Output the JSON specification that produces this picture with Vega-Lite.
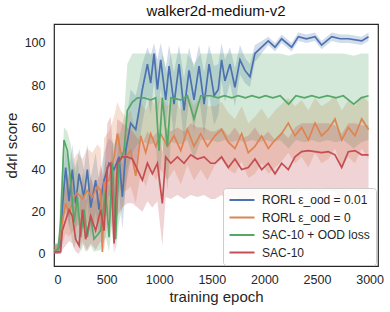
{
"$schema": "https://vega.github.io/schema/vega-lite/v6.json",
"width": 324, "height": 242,
"autosize": {"type": "none"},
"padding": {"left": 54, "top": 24, "right": 12, "bottom": 46},
"title": {"text": "walker2d-medium-v2", "fontSize": 15, "font": "Liberation Sans", "fontWeight": "normal", "color": "#111", "offset": 5},
"config": {
  "view": {"stroke": "#262626", "strokeWidth": 1.2},
  "font": "Liberation Sans",
  "axis": {"grid": false, "ticks": false, "domain": false, "labelFont": "Liberation Sans", "labelFontSize": 12.5, "labelColor": "#262626", "titleFont": "Liberation Sans", "titleFontSize": 15, "titleFontWeight": "normal", "titleColor": "#262626"}
},
"data": {"values": [
{"s":"b","e":0,"m":2,"lo":0,"hi":4},{"s":"b","e":30,"m":2,"lo":0,"hi":5},{"s":"b","e":63,"m":4,"lo":0,"hi":12},{"s":"b","e":79,"m":22,"lo":10,"hi":35},{"s":"b","e":111,"m":41,"lo":25,"hi":50},{"s":"b","e":143,"m":25,"lo":12,"hi":40},{"s":"b","e":174,"m":40,"lo":25,"hi":52},{"s":"b","e":206,"m":24,"lo":10,"hi":38},{"s":"b","e":238,"m":38,"lo":22,"hi":50},{"s":"b","e":285,"m":27,"lo":12,"hi":40},{"s":"b","e":317,"m":40,"lo":25,"hi":52},{"s":"b","e":349,"m":22,"lo":8,"hi":36},{"s":"b","e":396,"m":35,"lo":20,"hi":48},{"s":"b","e":428,"m":21,"lo":8,"hi":35},{"s":"b","e":476,"m":35,"lo":20,"hi":48},{"s":"b","e":523,"m":43,"lo":28,"hi":55},{"s":"b","e":571,"m":40,"lo":25,"hi":52},{"s":"b","e":618,"m":46,"lo":30,"hi":58},{"s":"b","e":650,"m":27,"lo":12,"hi":42},{"s":"b","e":682,"m":49,"lo":32,"hi":62},{"s":"b","e":729,"m":62,"lo":45,"hi":78},{"s":"b","e":777,"m":59,"lo":42,"hi":75},{"s":"b","e":808,"m":68,"lo":52,"hi":82},{"s":"b","e":840,"m":78,"lo":62,"hi":90},{"s":"b","e":888,"m":90,"lo":75,"hi":98},{"s":"b","e":919,"m":81,"lo":66,"hi":94},{"s":"b","e":951,"m":95,"lo":82,"hi":100},{"s":"b","e":983,"m":78,"lo":63,"hi":92},{"s":"b","e":1014,"m":92,"lo":78,"hi":100},{"s":"b","e":1062,"m":73,"lo":58,"hi":88},{"s":"b","e":1094,"m":89,"lo":75,"hi":99},{"s":"b","e":1141,"m":71,"lo":56,"hi":86},{"s":"b","e":1189,"m":90,"lo":76,"hi":99},{"s":"b","e":1236,"m":68,"lo":53,"hi":83},{"s":"b","e":1284,"m":87,"lo":73,"hi":98},{"s":"b","e":1331,"m":73,"lo":58,"hi":88},{"s":"b","e":1379,"m":89,"lo":75,"hi":99},{"s":"b","e":1427,"m":71,"lo":56,"hi":86},{"s":"b","e":1474,"m":90,"lo":76,"hi":99},{"s":"b","e":1522,"m":75,"lo":61,"hi":89},{"s":"b","e":1562,"m":78,"lo":66,"hi":90},{"s":"b","e":1593,"m":92,"lo":82,"hi":100},{"s":"b","e":1625,"m":82,"lo":72,"hi":92},{"s":"b","e":1673,"m":90,"lo":81,"hi":98},{"s":"b","e":1720,"m":79,"lo":70,"hi":88},{"s":"b","e":1768,"m":92,"lo":85,"hi":99},{"s":"b","e":1815,"m":87,"lo":81,"hi":93},{"s":"b","e":1863,"m":84,"lo":79,"hi":90},{"s":"b","e":1910,"m":95,"lo":91,"hi":99},{"s":"b","e":1974,"m":98,"lo":95,"hi":101},{"s":"b","e":2037,"m":101,"lo":99,"hi":103},{"s":"b","e":2101,"m":98,"lo":96,"hi":100},{"s":"b","e":2164,"m":102,"lo":100,"hi":104},{"s":"b","e":2259,"m":98,"lo":96,"hi":100},{"s":"b","e":2323,"m":103,"lo":101,"hi":105},{"s":"b","e":2400,"m":102,"lo":100,"hi":104},{"s":"b","e":2481,"m":103,"lo":101,"hi":105},{"s":"b","e":2544,"m":99,"lo":97,"hi":101},{"s":"b","e":2640,"m":103,"lo":101,"hi":105},{"s":"b","e":2720,"m":102,"lo":100,"hi":104},{"s":"b","e":2798,"m":102,"lo":100,"hi":104},{"s":"b","e":2925,"m":101,"lo":99,"hi":103},{"s":"b","e":2990,"m":103,"lo":101,"hi":105},

{"s":"o","e":0,"m":2,"lo":0,"hi":5},{"s":"o","e":40,"m":2,"lo":0,"hi":5},{"s":"o","e":79,"m":15,"lo":5,"hi":30},{"s":"o","e":111,"m":24,"lo":10,"hi":40},{"s":"o","e":143,"m":19,"lo":8,"hi":35},{"s":"o","e":190,"m":27,"lo":12,"hi":45},{"s":"o","e":222,"m":29,"lo":14,"hi":48},{"s":"o","e":270,"m":26,"lo":12,"hi":45},{"s":"o","e":317,"m":30,"lo":15,"hi":50},{"s":"o","e":365,"m":27,"lo":12,"hi":48},{"s":"o","e":412,"m":32,"lo":16,"hi":52},{"s":"o","e":444,"m":30,"lo":14,"hi":50},{"s":"o","e":460,"m":1,"lo":0,"hi":30},{"s":"o","e":476,"m":34,"lo":18,"hi":55},{"s":"o","e":523,"m":35,"lo":18,"hi":58},{"s":"o","e":571,"m":46,"lo":25,"hi":65},{"s":"o","e":602,"m":57,"lo":35,"hi":72},{"s":"o","e":634,"m":48,"lo":30,"hi":68},{"s":"o","e":682,"m":46,"lo":30,"hi":65},{"s":"o","e":729,"m":49,"lo":32,"hi":68},{"s":"o","e":777,"m":37,"lo":24,"hi":58},{"s":"o","e":824,"m":56,"lo":38,"hi":72},{"s":"o","e":872,"m":48,"lo":32,"hi":68},{"s":"o","e":919,"m":57,"lo":40,"hi":74},{"s":"o","e":967,"m":51,"lo":35,"hi":70},{"s":"o","e":1014,"m":57,"lo":40,"hi":75},{"s":"o","e":1078,"m":51,"lo":35,"hi":70},{"s":"o","e":1141,"m":56,"lo":40,"hi":74},{"s":"o","e":1205,"m":49,"lo":33,"hi":68},{"s":"o","e":1268,"m":59,"lo":42,"hi":76},{"s":"o","e":1331,"m":51,"lo":35,"hi":70},{"s":"o","e":1395,"m":57,"lo":40,"hi":75},{"s":"o","e":1458,"m":51,"lo":35,"hi":70},{"s":"o","e":1530,"m":56,"lo":42,"hi":70},{"s":"o","e":1593,"m":59,"lo":45,"hi":72},{"s":"o","e":1657,"m":53,"lo":40,"hi":67},{"s":"o","e":1720,"m":50,"lo":38,"hi":64},{"s":"o","e":1784,"m":57,"lo":44,"hi":70},{"s":"o","e":1847,"m":48,"lo":36,"hi":62},{"s":"o","e":1910,"m":51,"lo":38,"hi":65},{"s":"o","e":1974,"m":56,"lo":43,"hi":69},{"s":"o","e":2037,"m":50,"lo":38,"hi":64},{"s":"o","e":2101,"m":54,"lo":41,"hi":68},{"s":"o","e":2164,"m":57,"lo":44,"hi":71},{"s":"o","e":2227,"m":62,"lo":48,"hi":74},{"s":"o","e":2291,"m":56,"lo":43,"hi":70},{"s":"o","e":2354,"m":60,"lo":46,"hi":73},{"s":"o","e":2418,"m":54,"lo":41,"hi":68},{"s":"o","e":2481,"m":62,"lo":48,"hi":74},{"s":"o","e":2544,"m":56,"lo":43,"hi":70},{"s":"o","e":2608,"m":59,"lo":45,"hi":72},{"s":"o","e":2671,"m":64,"lo":50,"hi":75},{"s":"o","e":2735,"m":54,"lo":41,"hi":68},{"s":"o","e":2798,"m":60,"lo":46,"hi":73},{"s":"o","e":2861,"m":56,"lo":43,"hi":70},{"s":"o","e":2925,"m":64,"lo":50,"hi":75},{"s":"o","e":2990,"m":59,"lo":45,"hi":72},

{"s":"g","e":0,"m":2,"lo":0,"hi":5},{"s":"g","e":40,"m":2,"lo":0,"hi":5},{"s":"g","e":63,"m":15,"lo":2,"hi":30},{"s":"g","e":95,"m":54,"lo":20,"hi":60},{"s":"g","e":127,"m":49,"lo":18,"hi":58},{"s":"g","e":158,"m":35,"lo":10,"hi":52},{"s":"g","e":190,"m":15,"lo":2,"hi":40},{"s":"g","e":222,"m":27,"lo":8,"hi":45},{"s":"g","e":254,"m":8,"lo":1,"hi":30},{"s":"g","e":285,"m":21,"lo":5,"hi":40},{"s":"g","e":317,"m":8,"lo":1,"hi":28},{"s":"g","e":349,"m":18,"lo":4,"hi":38},{"s":"g","e":380,"m":7,"lo":1,"hi":25},{"s":"g","e":444,"m":11,"lo":2,"hi":30},{"s":"g","e":491,"m":30,"lo":8,"hi":45},{"s":"g","e":523,"m":8,"lo":1,"hi":30},{"s":"g","e":555,"m":43,"lo":15,"hi":55},{"s":"g","e":586,"m":7,"lo":1,"hi":35},{"s":"g","e":618,"m":43,"lo":15,"hi":55},{"s":"g","e":666,"m":49,"lo":25,"hi":65},{"s":"g","e":697,"m":68,"lo":40,"hi":90},{"s":"g","e":745,"m":72,"lo":48,"hi":95},{"s":"g","e":793,"m":74,"lo":52,"hi":95},{"s":"g","e":856,"m":74,"lo":53,"hi":95},{"s":"g","e":919,"m":73,"lo":52,"hi":95},{"s":"g","e":967,"m":74,"lo":53,"hi":95},{"s":"g","e":999,"m":49,"lo":30,"hi":85},{"s":"g","e":1030,"m":74,"lo":53,"hi":95},{"s":"g","e":1078,"m":51,"lo":30,"hi":85},{"s":"g","e":1110,"m":74,"lo":53,"hi":95},{"s":"g","e":1205,"m":73,"lo":52,"hi":95},{"s":"g","e":1268,"m":75,"lo":54,"hi":95},{"s":"g","e":1331,"m":64,"lo":45,"hi":90},{"s":"g","e":1395,"m":75,"lo":54,"hi":95},{"s":"g","e":1490,"m":75,"lo":54,"hi":95},{"s":"g","e":1560,"m":74,"lo":53,"hi":95},{"s":"g","e":1620,"m":75,"lo":54,"hi":95},{"s":"g","e":1690,"m":74,"lo":53,"hi":95},{"s":"g","e":1750,"m":75,"lo":54,"hi":95},{"s":"g","e":1820,"m":74,"lo":53,"hi":95},{"s":"g","e":1880,"m":75,"lo":54,"hi":95},{"s":"g","e":1950,"m":74,"lo":53,"hi":95},{"s":"g","e":2010,"m":75,"lo":54,"hi":95},{"s":"g","e":2080,"m":74,"lo":53,"hi":95},{"s":"g","e":2150,"m":75,"lo":54,"hi":95},{"s":"g","e":2230,"m":71,"lo":50,"hi":94},{"s":"g","e":2300,"m":75,"lo":54,"hi":95},{"s":"g","e":2380,"m":74,"lo":53,"hi":95},{"s":"g","e":2450,"m":75,"lo":54,"hi":95},{"s":"g","e":2520,"m":74,"lo":53,"hi":95},{"s":"g","e":2600,"m":75,"lo":54,"hi":95},{"s":"g","e":2680,"m":74,"lo":53,"hi":95},{"s":"g","e":2750,"m":75,"lo":54,"hi":95},{"s":"g","e":2850,"m":71,"lo":50,"hi":94},{"s":"g","e":2920,"m":74,"lo":53,"hi":95},{"s":"g","e":2990,"m":75,"lo":54,"hi":95},

{"s":"r","e":0,"m":1,"lo":0,"hi":4},{"s":"r","e":63,"m":1,"lo":0,"hi":5},{"s":"r","e":79,"m":11,"lo":2,"hi":25},{"s":"r","e":111,"m":16,"lo":4,"hi":32},{"s":"r","e":143,"m":21,"lo":6,"hi":38},{"s":"r","e":174,"m":18,"lo":5,"hi":35},{"s":"r","e":206,"m":7,"lo":1,"hi":25},{"s":"r","e":238,"m":4,"lo":0,"hi":20},{"s":"r","e":270,"m":21,"lo":6,"hi":38},{"s":"r","e":301,"m":7,"lo":1,"hi":25},{"s":"r","e":349,"m":18,"lo":5,"hi":36},{"s":"r","e":396,"m":11,"lo":2,"hi":30},{"s":"r","e":444,"m":21,"lo":6,"hi":42},{"s":"r","e":476,"m":11,"lo":2,"hi":35},{"s":"r","e":507,"m":41,"lo":15,"hi":62},{"s":"r","e":539,"m":43,"lo":18,"hi":65},{"s":"r","e":571,"m":5,"lo":0,"hi":40},{"s":"r","e":602,"m":43,"lo":18,"hi":64},{"s":"r","e":650,"m":46,"lo":22,"hi":62},{"s":"r","e":697,"m":46,"lo":24,"hi":60},{"s":"r","e":745,"m":45,"lo":24,"hi":58},{"s":"r","e":793,"m":40,"lo":22,"hi":55},{"s":"r","e":840,"m":35,"lo":20,"hi":52},{"s":"r","e":888,"m":43,"lo":25,"hi":58},{"s":"r","e":935,"m":38,"lo":22,"hi":55},{"s":"r","e":983,"m":43,"lo":25,"hi":58},{"s":"r","e":1030,"m":24,"lo":4,"hi":48},{"s":"r","e":1062,"m":46,"lo":27,"hi":60},{"s":"r","e":1110,"m":43,"lo":26,"hi":58},{"s":"r","e":1173,"m":46,"lo":28,"hi":60},{"s":"r","e":1236,"m":43,"lo":26,"hi":58},{"s":"r","e":1300,"m":47,"lo":28,"hi":62},{"s":"r","e":1363,"m":45,"lo":27,"hi":60},{"s":"r","e":1427,"m":46,"lo":28,"hi":60},{"s":"r","e":1490,"m":43,"lo":26,"hi":58},{"s":"r","e":1530,"m":43,"lo":26,"hi":58},{"s":"r","e":1593,"m":46,"lo":28,"hi":60},{"s":"r","e":1657,"m":41,"lo":25,"hi":56},{"s":"r","e":1720,"m":45,"lo":27,"hi":60},{"s":"r","e":1784,"m":40,"lo":24,"hi":55},{"s":"r","e":1847,"m":41,"lo":25,"hi":56},{"s":"r","e":1910,"m":45,"lo":27,"hi":60},{"s":"r","e":1974,"m":40,"lo":24,"hi":55},{"s":"r","e":2037,"m":43,"lo":26,"hi":58},{"s":"r","e":2101,"m":38,"lo":22,"hi":54},{"s":"r","e":2164,"m":43,"lo":26,"hi":58},{"s":"r","e":2227,"m":40,"lo":24,"hi":55},{"s":"r","e":2291,"m":46,"lo":28,"hi":60},{"s":"r","e":2354,"m":48.5,"lo":30,"hi":62},{"s":"r","e":2418,"m":49,"lo":30,"hi":62},{"s":"r","e":2481,"m":48.5,"lo":30,"hi":62},{"s":"r","e":2544,"m":48,"lo":29,"hi":62},{"s":"r","e":2608,"m":48.5,"lo":30,"hi":62},{"s":"r","e":2671,"m":47,"lo":29,"hi":61},{"s":"r","e":2735,"m":41,"lo":25,"hi":57},{"s":"r","e":2798,"m":48.5,"lo":30,"hi":62},{"s":"r","e":2861,"m":49,"lo":30,"hi":62},{"s":"r","e":2925,"m":47,"lo":29,"hi":61},{"s":"r","e":2990,"m":47,"lo":28,"hi":61}
]},
"encoding": {
  "x": {"field": "e", "type": "quantitative", "title": "training epoch", "scale": {"domain": [0, 3080], "nice": false, "zero": false}, "axis": {"values": [0,500,1000,1500,2000,2500,3000], "format": "d", "labelPadding": 7, "titlePadding": 4}},
  "color": {"field": "s", "type": "nominal", "scale": {"domain": ["b","o","g","r"], "range": ["#4c72b0","#dd8452","#55a868","#c44e52"]},
    "legend": {"title": null, "orient": "none", "legendX": 169, "legendY": 164, "direction": "vertical", "padding": 6, "strokeColor": "#cccccc", "cornerRadius": 3, "fillColor": "rgba(255,255,255,0.85)", "symbolType": "M-2.5,0H2.5", "symbolSize": 100, "symbolStrokeWidth": 2, "symbolOpacity": 1, "symbolOffset": 7, "labelOffset": 14, "labelFont": "Liberation Sans", "labelFontSize": 12, "labelColor": "#262626", "rowPadding": 5.5, "labelExpr": "datum.label == 'b' ? 'RORL ε_ood = 0.01' : datum.label == 'o' ? 'RORL ε_ood = 0' : datum.label == 'g' ? 'SAC-10 + OOD loss' : 'SAC-10'"}}
},
"layer": [
  {"mark": {"type": "area", "opacity": 0.25, "clip": true},
   "encoding": {"y": {"field": "lo", "type": "quantitative", "title": "d4rl score", "scale": {"domain": [-5.7, 109], "nice": false, "zero": false}, "axis": {"values": [0,20,40,60,80,100], "labelPadding": 9, "titlePadding": 5}}, "y2": {"field": "hi"}}},
  {"mark": {"type": "line", "strokeWidth": 1.7, "clip": true},
   "encoding": {"y": {"field": "m", "type": "quantitative"}}}
]
}
